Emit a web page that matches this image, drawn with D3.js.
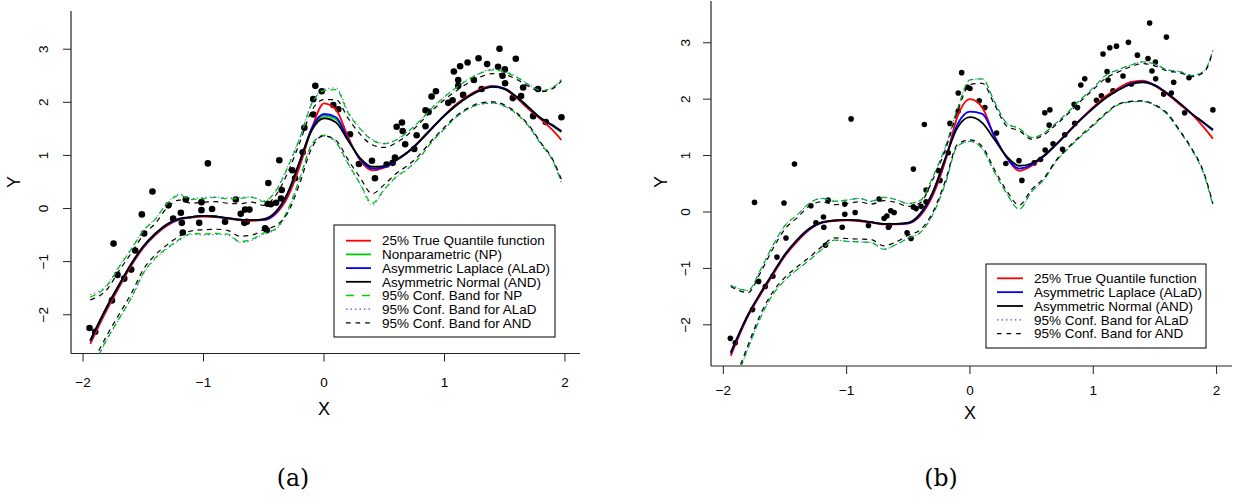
<!DOCTYPE html>
<html><head><meta charset="utf-8">
<script src="https://cdn.jsdelivr.net/npm/d3@7"></script>
<style>
html,body{margin:0;padding:0;background:#fff;}
svg text{font-family:"Liberation Sans",Arial,sans-serif;fill:#000;}
</style></head>
<body><svg id="chart" width="1234" height="497"></svg>
<script>
// ---------- data ----------
const gridX = [-1.94,-1.8,-1.7,-1.6,-1.5,-1.4,-1.3,-1.2,-1.1,-1.0,-0.9,-0.8,-0.7,-0.6,-0.5,-0.4,-0.3,-0.2,-0.1,0,0.1,0.2,0.3,0.4,0.5,0.6,0.7,0.8,0.9,1.0,1.1,1.2,1.3,1.4,1.5,1.6,1.7,1.8,1.9,1.97];
const xTicks = [-2,-1,0,1,2];
const yTicks = [-2,-1,0,1,2,3];

// panel (a)
const trueA = [-2.55,-1.90,-1.48,-1.08,-0.74,-0.50,-0.32,-0.21,-0.17,-0.15,-0.16,-0.19,-0.22,-0.23,-0.22,-0.10,0.22,0.80,1.52,1.98,1.86,1.35,0.91,0.72,0.77,0.91,1.07,1.29,1.53,1.76,1.97,2.13,2.25,2.31,2.25,2.08,1.87,1.68,1.47,1.29];
const npA   = [-2.50,-1.85,-1.44,-1.05,-0.72,-0.48,-0.30,-0.20,-0.16,-0.14,-0.15,-0.18,-0.21,-0.22,-0.21,-0.07,0.29,0.89,1.50,1.75,1.68,1.30,0.94,0.76,0.79,0.91,1.07,1.28,1.52,1.75,1.95,2.11,2.23,2.30,2.26,2.10,1.90,1.70,1.55,1.44];
const alaA  = [-2.50,-1.85,-1.44,-1.05,-0.72,-0.48,-0.30,-0.20,-0.16,-0.14,-0.15,-0.18,-0.21,-0.22,-0.21,-0.08,0.28,0.88,1.52,1.78,1.72,1.30,0.93,0.75,0.78,0.91,1.07,1.28,1.52,1.75,1.95,2.11,2.23,2.30,2.26,2.10,1.90,1.70,1.56,1.45];
const andA  = [-2.48,-1.84,-1.43,-1.04,-0.71,-0.47,-0.29,-0.19,-0.16,-0.14,-0.15,-0.18,-0.21,-0.22,-0.20,-0.06,0.30,0.90,1.48,1.70,1.62,1.28,0.95,0.79,0.80,0.92,1.07,1.28,1.52,1.75,1.95,2.11,2.23,2.29,2.25,2.10,1.90,1.70,1.57,1.46];
const npUpA  = [-1.67,-1.45,-1.10,-0.77,-0.42,-0.20,0.10,0.25,0.17,0.19,0.21,0.18,0.19,0.21,0.13,0.33,0.78,1.33,1.98,2.22,2.24,1.80,1.50,1.29,1.22,1.29,1.45,1.66,1.90,2.10,2.28,2.43,2.55,2.61,2.57,2.47,2.33,2.22,2.28,2.42];
const npLoA  = [-3.10,-2.45,-2.07,-1.68,-1.22,-0.93,-0.74,-0.58,-0.47,-0.48,-0.47,-0.48,-0.62,-0.58,-0.46,-0.38,-0.02,0.58,1.22,1.38,1.25,0.85,0.47,0.10,0.36,0.60,0.76,0.98,1.27,1.50,1.73,1.88,1.97,1.99,1.93,1.78,1.55,1.22,0.90,0.50];
const alaUpA = [-1.62,-1.43,-1.08,-0.75,-0.41,-0.19,0.11,0.27,0.19,0.21,0.22,0.20,0.21,0.22,0.15,0.35,0.80,1.35,2.00,2.25,2.27,1.83,1.52,1.30,1.23,1.30,1.46,1.67,1.91,2.11,2.29,2.44,2.56,2.63,2.59,2.48,2.34,2.22,2.29,2.44];
const alaLoA = [-3.12,-2.47,-2.08,-1.70,-1.24,-0.95,-0.76,-0.60,-0.49,-0.50,-0.49,-0.50,-0.64,-0.60,-0.48,-0.40,-0.05,0.55,1.20,1.36,1.23,0.83,0.45,0.06,0.34,0.58,0.75,0.97,1.26,1.49,1.72,1.87,1.96,1.98,1.92,1.77,1.53,1.20,0.88,0.48];
const andUpA = [-1.72,-1.52,-1.17,-0.84,-0.50,-0.28,0.02,0.16,0.10,0.12,0.13,0.10,0.09,0.12,0.06,0.25,0.68,1.25,1.85,2.05,2.05,1.70,1.40,1.20,1.15,1.24,1.40,1.62,1.85,2.05,2.22,2.37,2.48,2.54,2.52,2.43,2.30,2.20,2.26,2.40];
const andLoA = [-3.00,-2.38,-1.99,-1.60,-1.15,-0.87,-0.68,-0.52,-0.42,-0.40,-0.39,-0.41,-0.52,-0.50,-0.40,-0.32,-0.08,0.48,1.15,1.37,1.28,0.92,0.58,0.28,0.45,0.66,0.82,1.03,1.30,1.53,1.75,1.90,1.99,2.01,1.95,1.80,1.57,1.24,0.92,0.55];
const ptsA = [[-1.946,-2.25],[-1.899,-2.32],[-1.760,-1.73],[-1.747,-0.66],[-1.714,-1.25],[-1.658,-1.32],[-1.600,-1.15],[-1.567,-0.79],[-1.512,-0.11],[-1.493,-0.47],
[-1.424,0.32],[-1.291,0.06],[-1.252,-0.19],[-1.188,-0.08],[-1.180,-0.27],[-1.172,-0.45],[-1.147,0.17],[-1.036,-0.27],[-1.017,0.12],[-1.017,-0.03],
[-0.964,0.85],[-0.929,-0.01],[-0.821,-0.25],[-0.732,0.17],[-0.691,-0.10],[-0.655,-0.02],[-0.619,-0.02],[-0.661,-0.27],[-0.641,-0.25],[-0.489,-0.37],
[-0.475,-0.41],[-0.462,0.48],[-0.467,0.09],[-0.442,0.08],[-0.398,0.11],[-0.371,0.91],[-0.357,0.19],[-0.351,0.35],[-0.263,0.72],[-0.240,0.57],
[-0.177,1.06],[-0.163,1.52],[-0.089,2.06],[-0.089,1.77],[-0.072,2.31],[-0.019,2.21],[0.077,1.95],[0.119,1.87],[0.216,1.40],[0.290,0.84],
[0.398,0.90],[0.423,0.57],[0.520,0.83],[0.570,0.86],[0.589,0.96],[0.603,1.54],[0.647,1.62],[0.653,1.46],[0.674,1.21],[0.749,1.12],
[0.769,1.38],[0.843,1.55],[0.843,1.85],[0.868,1.82],[0.893,2.11],[0.929,2.21],[1.031,1.99],[1.067,2.04],[1.078,2.58],[1.114,2.42],
[1.130,2.68],[1.114,2.31],[1.155,2.14],[1.192,2.75],[1.244,2.42],[1.283,2.83],[1.308,2.25],[1.354,2.72],[1.445,2.67],[1.457,3.01],
[1.482,2.50],[1.501,2.62],[1.503,2.36],[1.567,2.08],[1.592,2.82],[1.636,2.12],[1.653,2.28],[1.736,1.74],[1.777,2.25],[1.841,1.63],[1.971,1.72]];

// panel (b)
const trueB = [-2.55,-1.85,-1.47,-1.12,-0.78,-0.52,-0.31,-0.19,-0.16,-0.15,-0.16,-0.19,-0.22,-0.22,-0.20,-0.06,0.30,0.90,1.70,2.00,1.85,1.33,0.96,0.73,0.82,0.99,1.20,1.43,1.65,1.86,2.05,2.19,2.30,2.33,2.24,2.09,1.91,1.73,1.49,1.30];
const alaB  = [-2.51,-1.83,-1.45,-1.10,-0.76,-0.50,-0.30,-0.19,-0.15,-0.14,-0.15,-0.18,-0.21,-0.21,-0.20,-0.04,0.34,0.94,1.56,1.78,1.74,1.34,0.96,0.77,0.84,0.99,1.20,1.42,1.64,1.84,2.02,2.16,2.27,2.31,2.25,2.10,1.93,1.74,1.57,1.45];
const andB  = [-2.49,-1.82,-1.44,-1.09,-0.75,-0.49,-0.29,-0.18,-0.15,-0.14,-0.15,-0.18,-0.21,-0.21,-0.19,-0.02,0.36,0.95,1.50,1.68,1.58,1.28,0.98,0.82,0.86,1.00,1.20,1.42,1.64,1.84,2.02,2.16,2.26,2.30,2.24,2.10,1.93,1.74,1.58,1.46];
const alaUpB = [-1.30,-1.39,-1.03,-0.60,-0.24,-0.05,0.16,0.24,0.19,0.21,0.24,0.19,0.26,0.22,0.15,0.21,0.63,1.15,1.84,2.34,2.36,1.95,1.57,1.48,1.32,1.40,1.58,1.78,2.00,2.20,2.42,2.52,2.60,2.66,2.62,2.52,2.49,2.42,2.50,2.87];
const alaLoB = [-3.24,-2.42,-1.88,-1.47,-1.21,-1.02,-0.85,-0.66,-0.50,-0.52,-0.53,-0.54,-0.66,-0.58,-0.46,-0.36,-0.04,0.50,1.17,1.25,1.12,0.70,0.32,0.05,0.36,0.57,0.90,1.13,1.34,1.53,1.73,1.90,1.95,1.96,1.89,1.73,1.43,1.10,0.65,0.12];
const andUpB = [-1.32,-1.43,-1.08,-0.66,-0.30,-0.10,0.11,0.18,0.13,0.15,0.18,0.14,0.20,0.17,0.10,0.17,0.58,1.10,1.78,2.26,2.28,1.90,1.52,1.44,1.29,1.37,1.55,1.75,1.97,2.17,2.37,2.48,2.57,2.63,2.59,2.50,2.47,2.40,2.48,2.84];
const andLoB = [-3.18,-2.36,-1.82,-1.42,-1.16,-0.97,-0.80,-0.61,-0.46,-0.47,-0.48,-0.49,-0.60,-0.53,-0.41,-0.31,0.00,0.55,1.20,1.28,1.16,0.75,0.37,0.12,0.40,0.60,0.92,1.15,1.36,1.55,1.75,1.91,1.96,1.97,1.90,1.75,1.45,1.12,0.68,0.15];
const ptsB = [[-1.943,-2.24],[-1.903,-2.32],[-1.747,0.17],[-1.763,-1.73],[-1.714,-1.23],[-1.660,-1.32],[-1.598,-1.14],[-1.565,-0.80],[-1.508,0.16],[-1.492,-0.46],
[-1.423,0.85],[-1.290,0.11],[-1.249,-0.19],[-1.188,-0.09],[-1.185,-0.27],[-1.172,-0.59],[-1.150,0.21],[-1.036,-0.27],[-1.015,0.14],[-1.015,-0.04],
[-0.964,1.65],[-0.931,-0.01],[-0.823,-0.24],[-0.737,0.23],[-0.696,-0.11],[-0.674,-0.07],[-0.661,-0.27],[-0.642,0.02],[-0.615,-0.01],[-0.653,-0.24],
[-0.510,-0.37],[-0.478,-0.47],[-0.459,0.76],[-0.459,0.09],[-0.437,0.06],[-0.397,0.10],[-0.370,1.55],[-0.356,0.39],[-0.356,0.18],[-0.253,0.73],
[-0.243,0.56],[-0.176,1.05],[-0.162,1.57],[-0.095,2.11],[-0.095,1.79],[-0.067,2.47],[-0.019,2.21],[0.000,2.19],[0.075,1.97],[0.121,1.85],
[0.216,1.40],[0.291,0.86],[0.397,0.91],[0.421,0.56],[0.521,0.87],[0.572,0.93],[0.610,1.10],[0.607,1.76],[0.648,1.81],[0.642,1.54],
[0.674,1.21],[0.751,1.11],[0.769,1.37],[0.845,1.91],[0.850,1.57],[0.872,1.85],[0.899,2.25],[0.931,2.36],[1.026,1.98],[1.066,2.06],
[1.079,2.80],[1.112,2.49],[1.120,2.34],[1.134,2.91],[1.160,2.15],[1.188,2.94],[1.241,2.41],[1.285,3.01],[1.309,2.27],[1.358,2.78],
[1.444,2.72],[1.457,3.35],[1.476,2.50],[1.504,2.66],[1.506,2.36],[1.571,2.09],[1.593,3.10],[1.633,2.11],[1.652,2.30],[1.741,1.76],
[1.776,2.38],[1.970,1.81]];

const legendLabelsA = ["25% True Quantile function","Nonparametric (NP)","Asymmetric Laplace (ALaD)","Asymmetric Normal (AND)","95% Conf. Band for NP","95% Conf. Band for ALaD","95% Conf. Band for AND"];
const legendLabelsB = ["25% True Quantile function","Asymmetric Laplace (ALaD)","Asymmetric Normal (AND)","95% Conf. Band for ALaD","95% Conf. Band for AND"];
const captions = ["(a)","(b)"];

// ---------- styles ----------
const ST = {
  trueQ: {stroke:"#FF0000", w:1.8, dash:null},
  np:    {stroke:"#00CD00", w:1.8, dash:null},
  ala:   {stroke:"#0000FF", w:1.8, dash:null},
  and:   {stroke:"#000000", w:1.8, dash:null},
  npBand:{stroke:"#00CD00", w:1.3, dash:"6,4"},
  alaBand:{stroke:"#3344FF", w:1.0, dash:"1.2,3"},
  andBand:{stroke:"#000000", w:1.2, dash:"5,4.5"}
};
const legendDash = {npBand:"8,8", alaBand:"1.4,3.1", andBand:"4.6,5"};

const svg = d3.select("#chart");

function drawPanel(cfg){
  const g = svg.append("g");
  const x = d3.scaleLinear().domain([-2.1,2.125]).range([cfg.left,cfg.right]);
  const y = d3.scaleLinear().domain(cfg.yDomain).range([cfg.bottom,cfg.top]);
  const clipId = "clip"+cfg.id;
  svg.append("defs").append("clipPath").attr("id",clipId)
    .append("rect").attr("x",cfg.left).attr("y",cfg.top)
    .attr("width",cfg.right-cfg.left).attr("height",cfg.bottom-cfg.top);

  // axes
  const axCol = "#222";
  g.append("line").attr("x1",cfg.left).attr("x2",cfg.left).attr("y1",cfg.top).attr("y2",cfg.bottom)
    .attr("stroke",axCol).attr("stroke-width",1.2);
  g.append("line").attr("x1",cfg.left).attr("x2",cfg.right).attr("y1",cfg.bottom).attr("y2",cfg.bottom)
    .attr("stroke",axCol).attr("stroke-width",1.2);
  yTicks.forEach(t=>{
    g.append("line").attr("x1",cfg.left-8).attr("x2",cfg.left).attr("y1",y(t)).attr("y2",y(t))
      .attr("stroke",axCol).attr("stroke-width",1);
    g.append("text").attr("transform",`translate(${cfg.yLabX},${y(t)}) rotate(-90)`)
      .attr("text-anchor","middle").attr("dy","0.35em").attr("font-size",13.5)
      .text(t<0 ? "\u2212"+Math.abs(t) : String(t));
  });
  xTicks.forEach(t=>{
    g.append("line").attr("x1",x(t)).attr("x2",x(t)).attr("y1",cfg.bottom).attr("y2",cfg.bottom+8)
      .attr("stroke",axCol).attr("stroke-width",1);
    g.append("text").attr("x",x(t)).attr("y",cfg.xLabY).attr("text-anchor","middle")
      .attr("dy","0.35em").attr("font-size",13.5)
      .text(t<0 ? "\u2212"+Math.abs(t) : String(t));
  });
  g.append("text").attr("x",x(0)).attr("y",cfg.xTitleY).attr("text-anchor","middle")
    .attr("dy","0.35em").attr("font-size",18).text("X");
  g.append("text").attr("transform",`translate(${cfg.yTitleX},182) rotate(-90)`)
    .attr("text-anchor","middle").attr("dy","0.35em").attr("font-size",18).text("Y");

  const plot = g.append("g").attr("clip-path",`url(#${clipId})`);
  // points
  plot.selectAll("circle").data(cfg.pts).join("circle")
    .attr("cx",d=>x(d[0])).attr("cy",d=>y(d[1])).attr("r",cfg.r).attr("fill","#000");

  const line = d3.line().x((d,i)=>x(gridX[i])).y(d=>y(d)).curve(d3.curveMonotoneX);
  cfg.series.forEach(s=>{
    const st = ST[s.style];
    plot.append("path").attr("d",line(s.data)).attr("fill","none")
      .attr("stroke",st.stroke).attr("stroke-width",st.w)
      .attr("stroke-dasharray",st.dash).attr("stroke-linejoin","round");
  });

  // legend
  const L = cfg.legend;
  g.append("rect").attr("x",L.x).attr("y",L.y).attr("width",L.w).attr("height",L.h)
    .attr("fill","#fff").attr("stroke","#000").attr("stroke-width",1);
  L.items.forEach((it,i)=>{
    const yy = L.row0 + i*L.dy;
    const st = ST[it.style];
    g.append("line").attr("x1",L.lx1).attr("x2",L.lx2).attr("y1",yy).attr("y2",yy)
      .attr("stroke",st.stroke).attr("stroke-width",st.dash?Math.max(st.w,1.3):1.8)
      .attr("stroke-dasharray",legendDash[it.style]||null);
    g.append("text").attr("x",L.tx).attr("y",yy).attr("dy","0.35em").attr("font-size",13.5)
      .text(it.label);
  });

  svg.append("text").attr("x",cfg.capX).attr("y",478).attr("text-anchor","middle").attr("dy","0.35em")
    .attr("font-size",23.5).style("font-family","'DejaVu Serif','Liberation Serif',serif")
    .style("font-weight","300").text(cfg.caption);
}

drawPanel({
  id:"A", left:71, right:580, top:11, bottom:353.5, yDomain:[-2.73,3.72],
  yLabX:43, xLabY:382, xTitleY:409, yTitleX:14, r:3.3, pts:ptsA,
  series:[
    {data:npUpA, style:"npBand"},{data:npLoA, style:"npBand"},
    {data:alaUpA, style:"alaBand"},{data:alaLoA, style:"alaBand"},
    {data:andUpA, style:"andBand"},{data:andLoA, style:"andBand"},
    {data:trueA, style:"trueQ"},{data:npA, style:"np"},{data:alaA, style:"ala"},{data:andA, style:"and"}
  ],
  legend:{x:334,y:225,w:221,h:112,row0:240.7,dy:13.7,lx1:346,lx2:371,tx:382,
    items:[{label:legendLabelsA[0],style:"trueQ"},{label:legendLabelsA[1],style:"np"},{label:legendLabelsA[2],style:"ala"},
      {label:legendLabelsA[3],style:"and"},{label:legendLabelsA[4],style:"npBand"},{label:legendLabelsA[5],style:"alaBand"},
      {label:legendLabelsA[6],style:"andBand"}]},
  capX:293, caption:captions[0]
});

drawPanel({
  id:"B", left:711, right:1232, top:1, bottom:366, yDomain:[-2.73,3.74],
  yLabX:685, xLabY:390, xTitleY:413, yTitleX:661, r:2.8, pts:ptsB,
  series:[
    {data:alaUpB, style:"npBand"},{data:alaLoB, style:"npBand"},
    {data:alaUpB, style:"alaBand"},{data:alaLoB, style:"alaBand"},
    {data:andUpB, style:"andBand"},{data:andLoB, style:"andBand"},
    {data:trueB, style:"trueQ"},{data:alaB, style:"ala"},{data:andB, style:"and"}
  ],
  legend:{x:986,y:264,w:220,h:84,row0:278.3,dy:13.85,lx1:997,lx2:1023,tx:1034,
    items:[{label:legendLabelsB[0],style:"trueQ"},{label:legendLabelsB[1],style:"ala"},{label:legendLabelsB[2],style:"and"},
      {label:legendLabelsB[3],style:"alaBand"},{label:legendLabelsB[4],style:"andBand"}]},
  capX:941, caption:captions[1]
});
</script>
</body></html>
